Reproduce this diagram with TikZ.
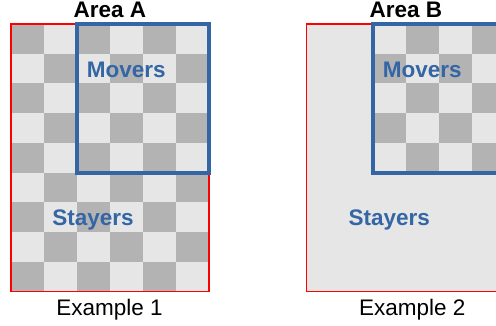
\documentclass[tikz,border=0pt]{standalone}
\usepackage{fontspec}
\setmainfont{Liberation Sans}
\usetikzlibrary{positioning}
\definecolor{movblue}{HTML}{3465A4}
\definecolor{cellDark}{HTML}{B3B3B3}
\definecolor{cellLight}{HTML}{E6E6E6}
\tikzstyle{area}=[draw=red, line width=1.5pt]
\tikzstyle{movers}=[draw=movblue, line width=4pt]
\tikzstyle{title}=[font=\fontsize{22.5}{27}\selectfont\bfseries, anchor=base, inner sep=0pt]
\tikzstyle{group}=[title, text=movblue]
\tikzstyle{caption}=[font=\fontsize{22.5}{27}\selectfont, anchor=base, inner sep=0pt]

\begin{document}
\begin{tikzpicture}[x=1pt, y=-1pt]

\clip (0,0) rectangle (496,325);

% Example 1
\fill[cellLight] (11,24) rectangle (209,291.7);
\foreach \r in {0,...,8}
  \foreach \c in {0,...,5} {
    \ifodd\numexpr\r+\c\relax\else
      \fill[cellDark] (11+33*\c, 24+29.74*\r) rectangle ++(33,29.74);
    \fi
  }
\draw[area] (11,24) rectangle (209,291.7);
\draw[movers] (77,24) rectangle (209,172.7);

\node[title] (areaA) at (110,17.3) {Area A};
\node[group] (moversA) at (126.3,77.3) {Movers};
\node[group] (stayersA) at (93,225) {Stayers};
\node[caption] (exampleA) at (109.5,315) {Example 1};

% Example 2
\fill[cellLight] (306.7,24) rectangle (504.7,291.7);
\foreach \r in {0,...,4}
  \foreach \c in {2,...,5} {
    \ifodd\numexpr\r+\c\relax
      \fill[cellDark] (306.7+33*\c, 24+29.74*\r) rectangle ++(33,29.74);
    \fi
  }
\draw[area] (306.7,24) rectangle (504.7,291.7);
\draw[movers] (372.7,24) rectangle (504.7,172.7);

\node[title] (areaB) at (406,17.3) {Area B};
\node[group] (moversB) at (422.3,77.3) {Movers};
\node[group] (stayersB) at (389.2,225) {Stayers};
\node[caption] (exampleB) at (412.2,315) {Example 2};

\end{tikzpicture}
\end{document}
